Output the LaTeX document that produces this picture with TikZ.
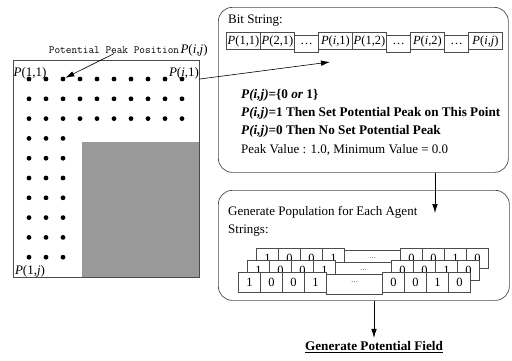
\documentclass[tikz,border=0pt]{standalone}
\usepackage{fontspec}
\setmainfont{Liberation Serif}
\usetikzlibrary{matrix,positioning,arrows.meta}

\tikzset{
  dot/.style={circle, fill=black, inner sep=0pt, minimum size=4.8pt},
  lbl/.style={inner sep=0pt, font=\fontsize{13}{15}\selectfont},
  txt/.style={anchor=west, inner sep=0pt, font=\fontsize{13}{15}\selectfont},
  bold/.style={font=\fontsize{13.2}{15}\selectfont\bfseries},
  roundbox/.style={draw=black!70, rounded corners=14pt, line width=0.7pt},
  arr/.style={-{Latex[length=9pt,width=5.5pt]}, line width=0.6pt},
}

\newcommand{\Pij}[2]{\textit{P}(#1,#2)}

\begin{document}
\begin{tikzpicture}[x=1pt, y=-1pt]
  \useasboundingbox (0,0) rectangle (512,360);

  % field of potential peak positions
  \draw[black!70, line width=0.6pt] (13,60) rectangle (199,277);
  \fill[black!40] (82,142) rectangle (199,277);
  \foreach \r in {1,...,10} {
    \ifnum\r<4 \def\cmax{10}\else\def\cmax{3}\fi
    \foreach \c in {1,...,\cmax}
      \node[dot] (d-\c-\r) at ({29+(\c-1)*17}, {79+(\r-1)*19.8}) {};
  }
  \node[lbl] (p11) at (30,73) {\Pij{1}{1}};
  \node[lbl] (pi1) at (184,73) {\Pij{\textit{i}}{1}};
  \node[lbl] (p1j) at (30,271) {\Pij{1}{\textit{j}}};
  \node[lbl, font=\ttfamily\fontsize{11}{13}\selectfont] (ppl) at (114,50) {Potential Peak Position};
  \node[lbl, right=1pt of ppl] (pij) {\Pij{\textit{i}}{\textit{j}}};

  % bit string
  \node[roundbox, minimum width=290pt, minimum height=165pt, anchor=north west] (bitbox) at (218,7) {};
  \node[txt] (bstitle) at (228,21) {Bit String:};
  \matrix[matrix of nodes, ampersand replacement=\&, anchor=north west,
          inner sep=0pt, column sep=-0.6pt,
          nodes={draw=black!70, line width=0.6pt, minimum height=17pt,
                 minimum width=34pt, inner sep=0pt, font=\fontsize{12.5}{14}\selectfont}] (bits) at (226,32) {
    \Pij{1}{1} \& \Pij{2}{1} \& |[minimum width=24pt]| \dots
      \& \Pij{\textit{i}}{1} \& \Pij{1}{2} \& |[minimum width=24pt]| \dots
      \& \Pij{\textit{i}}{2} \& |[minimum width=24pt]| \dots \& \Pij{\textit{i}}{\textit{j}} \\
  };
  \node[txt, bold] (val) at (241,95) {\textit{P(i,j)}=\{0 \textit{or} 1\}};
  \node[txt, bold] (set1) at (241,113) {\textit{P(i,j)}=1 Then Set Potential Peak on This Point};
  \node[txt, bold] (set0) at (241,131) {\textit{P(i,j)}=0 Then No Set Potential Peak};
  \node[txt] (peak) at (241,150) {Peak Value : 1.0, Minimum Value = 0.0};

  % population
  \node[roundbox, minimum width=291pt, minimum height=110pt, anchor=north west] (popbox) at (218,190) {};
  \node[txt] (poptitle) at (228,212) {Generate Population for Each Agent};
  \node[txt] (strtitle) at (228,231) {Strings:};
  \foreach \n/\x/\y in {A/256/248, B/247/260, C/238/272}
    \matrix[matrix of nodes, ampersand replacement=\&, anchor=north west,
            inner sep=0pt, column sep=-0.6pt,
            nodes={draw=black!70, fill=white, line width=0.6pt, minimum height=20pt,
                   minimum width=22pt, inner sep=0pt, font=\fontsize{12.5}{14}\selectfont}] (str\n) at (\x,\y) {
      1 \& 0 \& 0 \& 1 \& |[minimum width=56pt]| \raisebox{4pt}{\scriptsize\dots} \& 0 \& 0 \& 1 \& 0 \\
    };

  % connectors
  \coordinate (bs-in) at (330,62);
  \coordinate (pop-in) at (435,213);
  \draw[arr] (ppl.south) -- (d-3-1);
  \draw[arr] (pi1.south east) -- (bs-in);
  \draw[arr] (bitbox.south -| pop-in) -- (pop-in);
  \node[bold] (genfield) at (374,347) {\underline{Generate Potential Field}};
  \draw[arr] (popbox.south -| genfield) -- (genfield.north);
\end{tikzpicture}
\end{document}
